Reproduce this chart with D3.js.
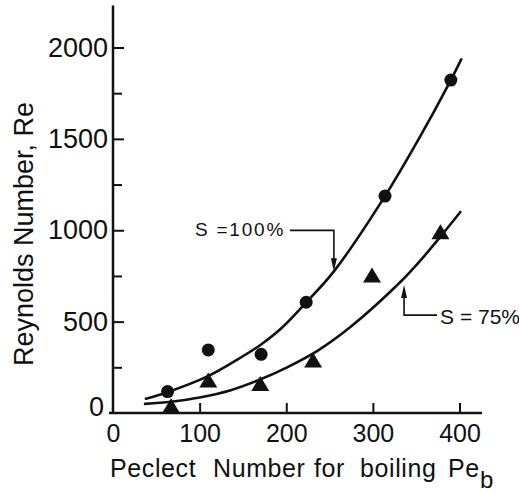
<!DOCTYPE html>
<html>
<head>
<meta charset="utf-8">
<script src="https://cdn.jsdelivr.net/npm/d3@7"></script>
<style>
  body { margin: 0; background: #fff; }
  svg { display: block; }
  text { font-family: "Liberation Sans", Arial, sans-serif; fill: #111; }
</style>
</head>
<body>
<svg id="chart" width="519" height="492"></svg>
<script>
// Measured points: saturation S = 100 % (circles) and S = 75 % (triangles)
const circlePe   = [63, 110, 171, 223, 314, 390];
const circleRe   = [117, 345, 321, 606, 1187, 1822];
const trianglePe = [67, 110, 170, 231, 299, 378];
const triangleRe = [40, 180, 162, 290, 755, 992];

// Fitted curves through each data set
const fit100Pe = [38, 63, 109, 148, 171, 194, 222, 255, 314, 353, 390, 402];
const fit100Re = [78, 114, 200, 305, 375, 462, 600, 775, 1187, 1500, 1822, 1935];
const fit75Pe  = [37, 67, 100, 136, 169, 201, 236, 274, 332, 355, 378, 401];
const fit75Re  = [50, 62, 85, 125, 182, 250, 340, 470, 718, 835, 965, 1100];

// Axis ticks
const xTicks = [0, 100, 200, 300, 400];
const yTicks = [0, 500, 1000, 1500, 2000];
const yMinorTicks = [250, 750, 1250, 1750];

// Curve labels, anchored where their arrows touch the curves
const note100 = { text: "S =100%", pe: 255, re: 775 };
const note75  = { text: "S = 75%", pe: 336, re: 700 };

const svg = d3.select("#chart");
const x = d3.scaleLinear().domain([0, 400]).range([113, 459.5]);
const y = d3.scaleLinear().domain([0, 2000]).range([413, 47.5]);
const ink = "#111";

// ---- x axis ----
const xAxisG = svg.append("g").attr("transform", `translate(0,${y(0)})`)
  .call(d3.axisBottom(x).tickValues(xTicks).tickFormat(d3.format("d"))
    .tickSizeInner(-10).tickSizeOuter(0).tickPadding(11));
xAxisG.select(".domain").remove();
xAxisG.selectAll(".tick line").attr("stroke", ink).attr("stroke-width", 2)
  .filter(d => d === 0).remove();
xAxisG.selectAll(".tick text").attr("font-size", 25).attr("fill", ink)
  .style("font-family", '"Liberation Sans", Arial, sans-serif');
svg.append("line")
  .attr("x1", x(0) - 4).attr("x2", 482)
  .attr("y1", y(0)).attr("y2", y(0))
  .attr("stroke", ink).attr("stroke-width", 2.6);

// ---- y axis ----
const yAxisG = svg.append("g").attr("transform", `translate(${x(0)},0)`)
  .call(d3.axisLeft(y).tickValues(yTicks).tickFormat(d3.format("d"))
    .tickSizeInner(-11).tickSizeOuter(0).tickPadding(5));
yAxisG.select(".domain").remove();
yAxisG.selectAll(".tick line").attr("stroke", ink).attr("stroke-width", 2)
  .filter(d => d === 0).remove();
yAxisG.selectAll(".tick text").attr("font-size", 27).attr("fill", ink)
  .style("font-family", '"Liberation Sans", Arial, sans-serif');
// the zero label sits just above the x axis
yAxisG.selectAll(".tick").filter(d => d === 0).select("text")
  .attr("transform", "translate(-4,-6)");

const yMinorG = svg.append("g").attr("transform", `translate(${x(0)},0)`)
  .call(d3.axisLeft(y).tickValues(yMinorTicks).tickFormat("")
    .tickSizeInner(-9).tickSizeOuter(0));
yMinorG.select(".domain").remove();
yMinorG.selectAll(".tick line").attr("stroke", ink).attr("stroke-width", 2);

svg.append("line")
  .attr("x1", x(0)).attr("x2", x(0))
  .attr("y1", y(0) + 1).attr("y2", y(2230))
  .attr("stroke", ink).attr("stroke-width", 2.5);

// ---- axis titles ----
const xTitle = svg.append("text")
  .attr("y", 476.5).attr("font-size", 25).attr("letter-spacing", 0.6);
[["Peclect", 110], ["Number", 213], ["for", 314], ["boiling", 360], ["Pe", 448]]
  .forEach(([w, px]) => xTitle.append("tspan").attr("x", px).text(w));
svg.append("text").attr("x", 480).attr("y", 488)
  .attr("font-size", 24).text("b");

svg.append("text")
  .attr("transform", "translate(33,234) rotate(-90)")
  .attr("text-anchor", "middle")
  .attr("font-size", 27)
  .text("Reynolds Number, Re");

// ---- fitted curves ----
const line = d3.line()
  .x(d => x(d[0])).y(d => y(d[1]))
  .curve(d3.curveCatmullRom.alpha(0.5));

svg.append("path")
  .attr("d", line(d3.zip(fit100Pe, fit100Re)))
  .attr("fill", "none").attr("stroke", ink).attr("stroke-width", 2.6)
  .attr("stroke-linecap", "round");
svg.append("path")
  .attr("d", line(d3.zip(fit75Pe, fit75Re)))
  .attr("fill", "none").attr("stroke", ink).attr("stroke-width", 2.6)
  .attr("stroke-linecap", "round");

// ---- markers ----
svg.append("g").selectAll("circle")
  .data(d3.zip(circlePe, circleRe))
  .join("circle")
  .attr("cx", d => x(d[0])).attr("cy", d => y(d[1]))
  .attr("r", 6.5).attr("fill", ink);

function triangle(cx, cy, w, h) {
  const p = d3.path();
  p.moveTo(cx, cy - h / 2);
  p.lineTo(cx + w / 2, cy + h / 2);
  p.lineTo(cx - w / 2, cy + h / 2);
  p.closePath();
  return p.toString();
}
svg.append("g").selectAll("path")
  .data(d3.zip(trianglePe, triangleRe))
  .join("path")
  .attr("d", d => triangle(x(d[0]), y(d[1]), 18, 15))
  .attr("fill", ink);

// ---- curve labels with elbow arrows ----
function arrowHead(tx, ty, dir) {
  // dir = 1: pointing down, dir = -1: pointing up
  const p = d3.path();
  p.moveTo(tx, ty);
  p.lineTo(tx + 3, ty - dir * 13);
  p.lineTo(tx - 3, ty - dir * 13);
  p.closePath();
  return p.toString();
}

{
  const tx = x(note100.pe), ty = y(note100.re);
  const elbowY = ty - 41;
  svg.append("path")
    .attr("d", `M${tx - 44},${elbowY}H${tx}V${ty - 4}`)
    .attr("fill", "none").attr("stroke", ink).attr("stroke-width", 1.6);
  svg.append("path").attr("d", arrowHead(tx, ty, 1)).attr("fill", ink);
  svg.append("text")
    .attr("x", tx - 139).attr("y", elbowY + 6)
    .attr("font-size", 19).attr("letter-spacing", 1.8)
    .text(note100.text);
}
{
  const tx = x(note75.pe), ty = y(note75.re);
  const elbowY = ty + 30;
  svg.append("path")
    .attr("d", `M${tx + 33},${elbowY}H${tx}V${ty + 4}`)
    .attr("fill", "none").attr("stroke", ink).attr("stroke-width", 1.6);
  svg.append("path").attr("d", arrowHead(tx, ty, -1)).attr("fill", ink);
  svg.append("text")
    .attr("x", tx + 36).attr("y", elbowY + 9)
    .attr("font-size", 21)
    .text(note75.text);
}
</script>
</body>
</html>
